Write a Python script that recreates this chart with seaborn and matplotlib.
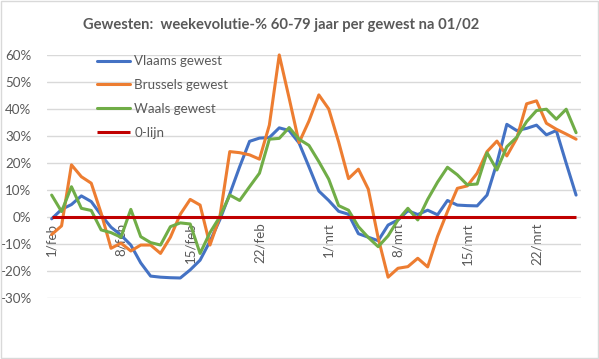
import numpy as np
import pandas as pd
import seaborn as sns
import matplotlib.pyplot as plt
from matplotlib.patches import Rectangle
from matplotlib.ticker import FuncFormatter

# weekevolutie in %, dagelijks van 1/feb t.e.m. 26/mrt
dagen = pd.date_range("2021-02-01", "2021-03-26", freq="D")

vlaams = [-0.7, 2.8, 4.6, 7.8, 5.7, 0.7, -3.8, -6.7, -10.4, -17.0,
          -21.9, -22.3, -22.5, -22.6, -19.6, -16.0, -9.0, -1.0, 8.5, 18.6,
          28.0, 29.2, 29.4, 33.0, 32.0, 27.4, 18.6, 9.6, 6.1, 2.1,
          1.0, -6.2, -7.5, -8.8, -3.0, -1.1, 2.3, 0.9, 2.5, 0.8,
          6.1, 4.4, 4.2, 4.1, 8.1, 20.0, 34.3, 32.0, 32.8, 34.0,
          30.4, 32.0, 19.9, 8.1]
brussels = [-6.5, -3.3, 19.3, 14.9, 12.5, 1.4, -11.6, -9.7, -12.6, -10.4,
            -10.4, -13.5, -7.5, 1.0, 6.5, 4.4, -10.4, 0.1, 24.2, 23.8,
            23.0, 21.4, 34.0, 60.0, 44.0, 27.5, 35.5, 45.2, 40.0, 27.8,
            14.2, 17.7, 10.3, -7.8, -22.3, -19.0, -18.4, -15.3, -18.5, -7.2,
            2.0, 10.6, 11.5, 16.2, 24.2, 28.1, 22.6, 29.1, 41.9, 43.0,
            34.7, 32.5, 30.7, 28.8]
waals = [8.1, 2.0, 11.2, 3.2, 2.4, -4.8, -5.8, -7.5, 2.8, -7.3,
         -9.5, -10.4, -3.6, -2.2, -2.6, -13.5, -5.8, 0.1, 8.1, 6.1,
         11.2, 16.2, 28.8, 29.1, 33.1, 28.8, 26.5, 20.5, 14.0, 4.2,
         2.5, -3.6, -7.6, -11.0, -7.0, -1.1, 3.2, -1.1, 6.5, 12.9,
         18.4, 15.6, 11.9, 12.2, 23.8, 17.4, 26.0, 29.5, 35.3, 39.4,
         39.9, 36.2, 39.9, 31.2]

tick_dagen = pd.to_datetime(["2021-02-01", "2021-02-08", "2021-02-15", "2021-02-22",
                             "2021-03-01", "2021-03-08", "2021-03-15", "2021-03-22"])
tick_labels = ["1/feb", "8/feb", "15/feb", "22/feb", "1/mrt", "8/mrt", "15/mrt", "22/mrt"]

df = pd.DataFrame({"dag": dagen, "Vlaams gewest": vlaams,
                   "Brussels gewest": brussels, "Waals gewest": waals})
df = df.melt(id_vars="dag", var_name="gewest", value_name="evolutie")
df["evolutie"] = df["evolutie"] / 100

sns.set_theme(style="white")
plt.rcParams["font.family"] = ["Lato", "DejaVu Sans"]
plt.rcParams["axes.unicode_minus"] = False
grijs = "#595959"

fig = plt.figure(figsize=(5.99, 3.59), dpi=100)
ax = fig.add_axes([0.078, 0.170, 0.892, 0.677])

kleuren = {"Vlaams gewest": "#4472C4", "Brussels gewest": "#ED7D31", "Waals gewest": "#70AD47"}
sns.lineplot(data=df, x="dag", y="evolutie", hue="gewest", palette=kleuren,
             linewidth=2.2, ax=ax)
ax.hlines(0, dagen[0], dagen[-1], color="#C00000", lw=2.2, label="0-lijn", zorder=5)
for l in ax.lines:
    l.set_clip_on(False)

half = pd.Timedelta(hours=12)
ax.set_xlim(dagen[0] - half, dagen[-1] + half)
ax.set_ylim(-0.3, 0.6)
ax.set_yticks(np.arange(-0.3, 0.61, 0.1))
ax.yaxis.set_major_formatter(FuncFormatter(lambda v, p: f"{v * 100:.0f}%".replace("−", "-")))
ax.yaxis.grid(True, color="#d9d9d9", lw=1)
ax.xaxis.grid(False)
ax.set_xlabel("")
ax.set_ylabel("")

for s in ["top", "right", "left"]:
    ax.spines[s].set_visible(False)
ax.spines["bottom"].set_position(("data", 0))
ax.spines["bottom"].set_visible(False)

ax.set_xticks(tick_dagen)
ax.set_xticklabels(tick_labels, rotation=90, ha="center", va="top")
ax.set_xticks(tick_dagen - half, minor=True)
ax.tick_params(axis="x", which="major", length=0, pad=4, labelsize=9.6, labelcolor=grijs)
ax.tick_params(axis="x", which="minor", length=4, color="#bfbfbf", width=1, direction="out")
ax.tick_params(axis="y", length=0, pad=11, labelsize=9.6, labelcolor=grijs)

handles, labels = ax.get_legend_handles_labels()
ax.legend(handles, labels, loc="upper left", bbox_to_anchor=(0.094, 0.998),
          frameon=False, fontsize=9.6, labelcolor=grijs, handlelength=2.5,
          handletextpad=0.3, labelspacing=0.88, borderpad=0, borderaxespad=0)

fig.text(281 / 599, 1 - 25 / 359, "Gewesten:  weekevolutie-% 60-79 jaar per gewest na 01/02",
         ha="center", va="center", fontsize=10.6, fontweight="bold", color=grijs)

fig.patches.append(Rectangle((0.002, 0.003), 0.996, 0.994, transform=fig.transFigure,
                             fill=False, edgecolor="#d9d9d9", lw=1))

fig.savefig("out.png", dpi=100)
